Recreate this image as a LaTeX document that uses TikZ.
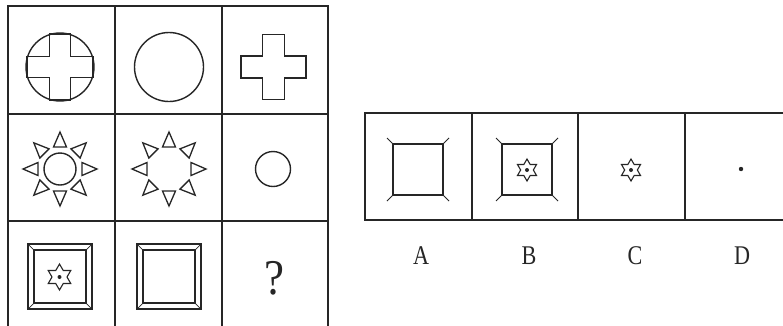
\documentclass[tikz,border=0pt]{standalone}
\usepackage{fontspec}
\setmainfont{Liberation Serif}
\usetikzlibrary{calc}
\newcommand\hexstar[3]{%
  \draw[shp, line width=1.1pt, line join=miter] ($(#1,#2)+(90:#3)$) -- ($(#1,#2)+(120:#3/1.732)$) -- ($(#1,#2)+(150:#3)$) -- ($(#1,#2)+(180:#3/1.732)$)
   -- ($(#1,#2)+(210:#3)$) -- ($(#1,#2)+(240:#3/1.732)$) -- ($(#1,#2)+(270:#3)$) -- ($(#1,#2)+(300:#3/1.732)$)
   -- ($(#1,#2)+(330:#3)$) -- ($(#1,#2)+(0:#3/1.732)$) -- ($(#1,#2)+(30:#3)$) -- ($(#1,#2)+(60:#3/1.732)$) -- cycle;
  \fill (#1,#2) circle (2);}
\newcommand\crossfig[4]{%
  \draw[shp] (#1-#3,#2-#4) -- (#1+#3,#2-#4) -- (#1+#3,#2-#3) -- (#1+#4,#2-#3) -- (#1+#4,#2+#3) -- (#1+#3,#2+#3)
   -- (#1+#3,#2+#4) -- (#1-#3,#2+#4) -- (#1-#3,#2+#3) -- (#1-#4,#2+#3) -- (#1-#4,#2-#3) -- (#1-#3,#2-#3) -- cycle;}
\newcommand\bevelsq[4]{% x1 y1 x2 y2
  \draw[line width=1.7pt] (#1,#2) rectangle (#3,#4);
  \draw[line width=1.2pt] (#1+6,#2+6) rectangle (#3-6,#4-6);
  \draw[line width=0.7pt] (#1,#2) -- (#1+6,#2+6) (#3,#2) -- (#3-6,#2+6) (#1,#4) -- (#1+6,#4-6) (#3,#4) -- (#3-6,#4-6);}
\newcommand\whisksq[4]{%
  \draw[line width=1.6pt] (#1,#2) rectangle (#3,#4);
  \draw[line width=1pt] (#1,#2) -- (#1-6,#2-6) (#3,#2) -- (#3+6,#2-6) (#1,#4) -- (#1-6,#4+6) (#3,#4) -- (#3+6,#4+6);}
\newcommand\sunrays[2]{%
  \foreach \a in {0,45,...,315}
    \draw[shp, line width=1.3pt, shift={(#1,#2)}, rotate=\a] (37,0) -- (22,6.5) -- (22,-6.5) -- cycle;}
\tikzset{
  grid/.style={line width=1.5pt, line cap=rect},
  shp/.style={line width=1.4pt, line join=miter},
  lab/.style={font=\fontsize{27}{30}\selectfont, xscale=0.82, inner sep=0pt},
}
\begin{document}
\begin{tikzpicture}[x=1pt, y=-1pt, color={black!85}]
\clip (0,0) rectangle (783,325);
\fill[white] (0,0) rectangle (783,325);
% left grid
\draw[grid] (8,6) rectangle (328,328);
\draw[grid] (115,6) -- (115,328) (222,6) -- (222,328);
\draw[grid] (8,114) -- (328,114) (8,221) -- (328,221);
% row 1
\draw[shp] (60,67) circle (34);
\crossfig{60}{67}{10.5}{33}
\draw[shp] (169,67) circle (34.5);
\crossfig{273.5}{67}{11}{32.5}
% row 2
\draw[shp] (60,169) circle (16);
\sunrays{60}{169}
\sunrays{169}{169}
\draw[shp] (273,169) circle (17.5);
% row 3
\bevelsq{28}{244}{92}{309}
\hexstar{59.5}{277}{13}
\bevelsq{137}{244}{201}{309}
\node[inner sep=0pt, font=\fontsize{50}{52}\selectfont, xscale=0.9] (q) at (274,278) {?};
% options
\draw[grid] (365,113) rectangle (800,220);
\draw[grid] (472,113) -- (472,220) (578,113) -- (578,220) (685,113) -- (685,220);
\whisksq{393}{144}{443}{195}
\whisksq{502}{144}{552}{195}
\hexstar{527}{170}{11}
\hexstar{631}{170}{11}
\fill (741,169) circle (2.2);
\node[lab] (la) at (421,256) {A};
\node[lab] (lb) at (529,256) {B};
\node[lab] (lc) at (635,256) {C};
\node[lab] (ld) at (742,256) {D};
\end{tikzpicture}
\end{document}
